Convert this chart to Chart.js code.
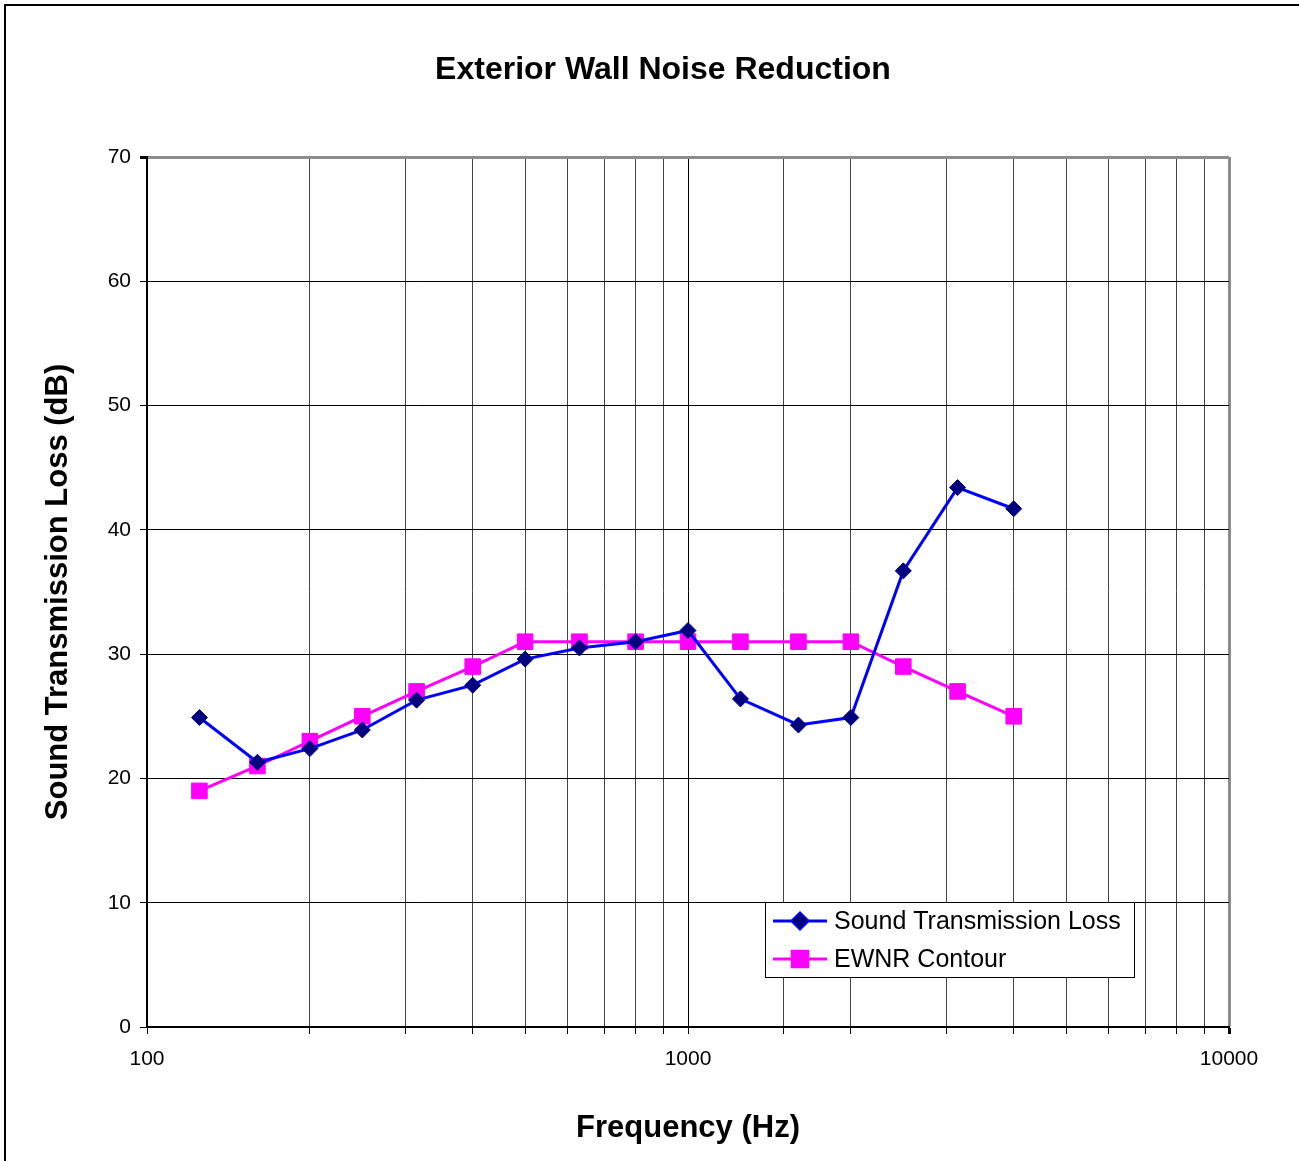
<!DOCTYPE html>
<html>
<head>
<meta charset="utf-8">
<script src="https://cdn.jsdelivr.net/npm/chart.js@4"></script>
<style>
  html, body { margin: 0; padding: 0; background: #fff; }
  canvas { display: block; }
</style>
</head>
<body>
<canvas id="chart" width="1299" height="1161"></canvas>
<script>
const frequencies = [125, 160, 200, 250, 315, 400, 500, 630, 800, 1000, 1250, 1600, 2000, 2500, 3150, 4000];
const stlValues = [24.9, 21.3, 22.4, 23.9, 26.3, 27.5, 29.6, 30.5, 31.0, 31.9, 26.4, 24.3, 24.9, 36.7, 43.4, 41.7];
const ewnrValues = [19, 21, 23, 25, 27, 29, 31, 31, 31, 31, 31, 31, 31, 29, 27, 25];
const majorXTicks = [100, 1000, 10000];

const FONT = '"Liberation Sans", Arial, sans-serif';

const toPoints = vals => frequencies.map((f, i) => ({ x: f, y: vals[i] }));

// title, outer frame and the boxed legend inside the plot
const extras = {
    id: 'extras',
    afterDraw(chart) {
        const ctx = chart.ctx;
        ctx.save();
        ctx.strokeStyle = '#000';
        ctx.lineWidth = 2;
        ctx.beginPath();
        ctx.moveTo(5, chart.height);
        ctx.lineTo(5, 5);
        ctx.lineTo(chart.width, 5);
        ctx.stroke();

        ctx.fillStyle = '#000';
        ctx.font = 'bold 32px ' + FONT;
        ctx.textAlign = 'center';
        ctx.textBaseline = 'middle';
        ctx.fillText('Exterior Wall Noise Reduction', 663, 70);

        // legend
        const lx = 765, ly = 902, lw = 369, lh = 75;
        ctx.fillStyle = '#fff';
        ctx.fillRect(lx, ly, lw, lh);
        ctx.strokeStyle = '#000';
        ctx.lineWidth = 1;
        ctx.strokeRect(lx + 0.5, ly + 0.5, lw, lh);
        chart.data.datasets.forEach((ds, i) => {
            const y = ly + 19 + i * 38;
            ctx.strokeStyle = ds.borderColor;
            ctx.lineWidth = ds.borderWidth;
            ctx.beginPath();
            ctx.moveTo(773, y);
            ctx.lineTo(827, y);
            ctx.stroke();
            Chart.helpers.drawPoint(ctx, {
                pointStyle: ds.pointStyle,
                radius: ds.pointRadius,
                borderWidth: 1
            }, 800, y);
            ctx.fillStyle = ds.pointBackgroundColor;
            ctx.strokeStyle = ds.pointBorderColor;
            ctx.fill();
            ctx.fillStyle = '#000';
            ctx.font = '25px ' + FONT;
            ctx.textAlign = 'left';
            ctx.textBaseline = 'middle';
            ctx.fillText(ds.label, 834, y + 1);
        });
        ctx.restore();
    }
};

new Chart(document.getElementById('chart'), {
    type: 'line',
    data: {
        datasets: [
            {
                label: 'Sound Transmission Loss',
                data: toPoints(stlValues),
                borderColor: '#0000ff',
                borderWidth: 3,
                pointStyle: 'rectRot',
                pointRadius: 8,
                pointBackgroundColor: '#000080',
                pointBorderColor: '#000080',
                pointBorderWidth: 1
            },
            {
                label: 'EWNR Contour',
                data: toPoints(ewnrValues),
                borderColor: '#ff00ff',
                borderWidth: 3,
                pointStyle: 'rect',
                pointRadius: 11,
                pointBackgroundColor: '#ff00ff',
                pointBorderColor: '#ff00ff',
                pointBorderWidth: 1
            }
        ]
    },
    options: {
        responsive: false,
        animation: false,
        events: [],
        layout: { padding: { top: 157, right: 70, bottom: 0, left: 0 } },
        plugins: {
            legend: { display: false },
            title: { display: false },
            tooltip: { enabled: false }
        },
        scales: {
            x: {
                type: 'logarithmic',
                min: 100,
                max: 10000,
                afterFit: s => { s.height = 134; },
                border: { color: '#000', width: 2 },
                grid: {
                    color: c => c.tick && c.tick.value === 10000 ? '#8c8c8c' : (majorXTicks.includes(c.tick && c.tick.value) ? '#000' : '#444'),
                    lineWidth: c => c.tick && c.tick.value === 10000 ? 3 : 1,
                    tickColor: '#000',
                    tickLength: 7
                },
                ticks: {
                    autoSkip: false,
                    maxRotation: 0,
                    padding: 13,
                    color: '#000',
                    font: { family: FONT, size: 21 },
                    callback: v => majorXTicks.includes(v) ? String(v) : ''
                },
                title: {
                    display: true,
                    text: 'Frequency (Hz)',
                    color: '#000',
                    font: { family: FONT, size: 31, weight: 'bold' },
                    padding: { top: 0, bottom: 14 }
                }
            },
            y: {
                min: 0,
                max: 70,
                afterFit: s => { s.width = 147; },
                border: { color: '#000', width: 2 },
                grid: {
                    color: c => c.tick && c.tick.value === 70 ? '#8c8c8c' : '#000',
                    lineWidth: c => c.tick && c.tick.value === 70 ? 3 : 1,
                    tickColor: '#000',
                    tickLength: 7
                },
                ticks: {
                    stepSize: 10,
                    padding: 9,
                    color: '#000',
                    font: { family: FONT, size: 21 }
                },
                title: {
                    display: true,
                    text: 'Sound Transmission Loss (dB)',
                    color: '#000',
                    font: { family: FONT, size: 31, weight: 'bold' },
                    padding: { top: 40, bottom: 0 }
                }
            }
        }
    },
    plugins: [extras]
});
</script>
</body>
</html>
